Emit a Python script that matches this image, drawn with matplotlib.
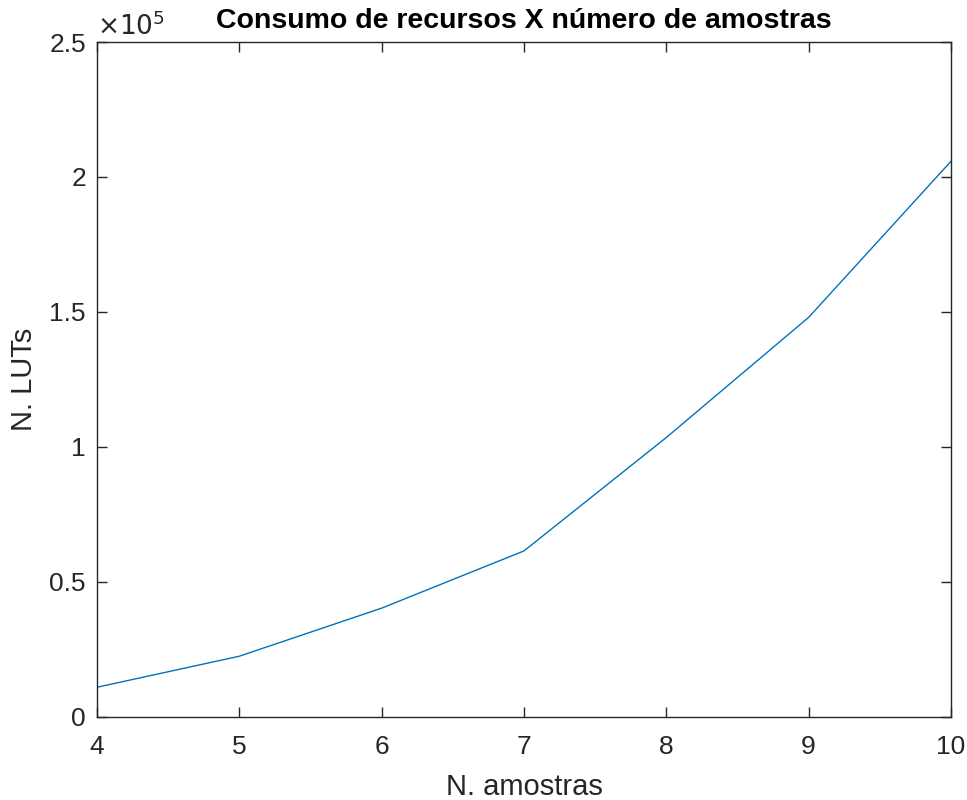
import matplotlib
matplotlib.use("Agg")
import matplotlib.pyplot as plt
from matplotlib.ticker import FuncFormatter

plt.rcParams['font.family'] = ['Liberation Sans', 'DejaVu Sans']

amostras = [4, 5, 6, 7, 8, 9, 10]
luts = [11000, 22500, 40300, 61500, 103500, 148000, 205800]

fig = plt.figure(figsize=(9.67, 8.0), dpi=100)
ax = fig.add_axes([0.1003, 0.1038, 0.8831, 0.8437])
ax.plot(amostras, luts, color='#0072BD', lw=1.0)
ax.set_xlim(4, 10)
ax.set_ylim(0, 2.5e5)
ax.set_xticks([4, 5, 6, 7, 8, 9, 10])
ax.set_yticks([0, 0.5e5, 1e5, 1.5e5, 2e5, 2.5e5])
ax.yaxis.set_major_formatter(FuncFormatter(lambda v, p: f"{v/1e5:g}"))
dark = '#262626'
for s in ax.spines.values():
    s.set_color(dark)
    s.set_linewidth(1.0)
ax.tick_params(direction='in', length=7.5, width=1.0, colors=dark, labelsize=19,
               top=True, right=True)
ax.tick_params(axis='x', pad=13)
ax.tick_params(axis='y', pad=8)
ax.set_xlabel('N. amostras', fontsize=21, color=dark, labelpad=10)
ax.set_ylabel('N. LUTs', fontsize=21, color=dark, labelpad=8)
ax.set_title('Consumo de recursos X número de amostras', fontsize=20.5,
             fontweight='bold', color='black', pad=10)
ax.text(0.0, 1.003, r'$\times10^5$', transform=ax.transAxes, fontsize=19,
        color=dark, ha='left', va='bottom', math_fontfamily='dejavusans')
fig.savefig('out.png', dpi=100)
